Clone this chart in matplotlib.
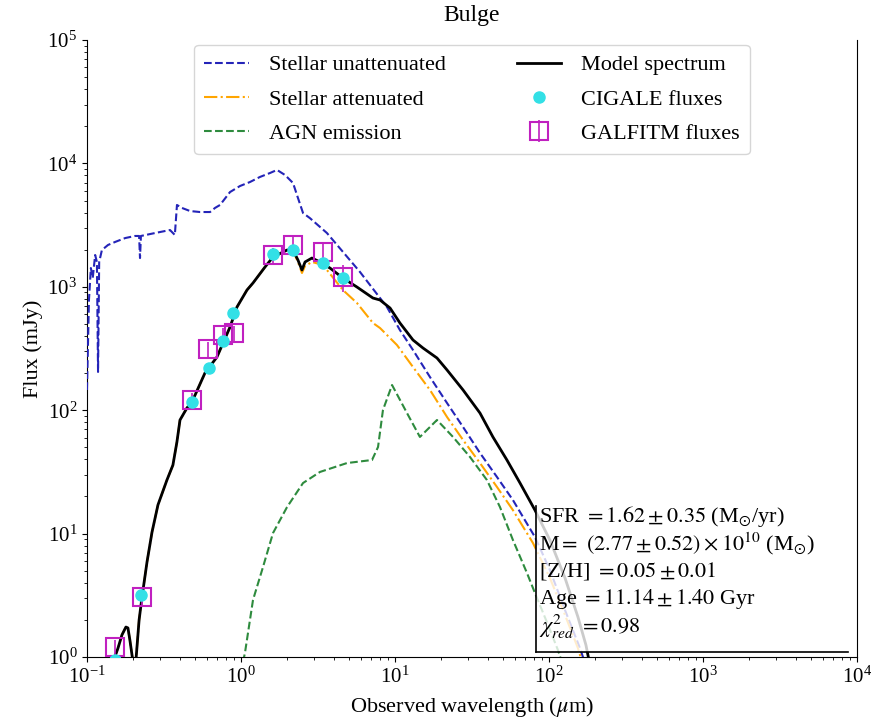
import matplotlib
matplotlib.use("Agg")
import matplotlib.pyplot as plt
from matplotlib.patches import Rectangle

plt.rcParams['font.family'] = ['Liberation Serif', 'DejaVu Serif']
plt.rcParams['mathtext.fontset'] = 'stix'

# ---------------- data (wavelength in micron, flux in mJy) ----------------
unatt_wl = [0.100, 0.103, 0.106, 0.109, 0.113, 0.116, 0.118, 0.120, 0.125, 0.137,
            0.152, 0.177, 0.205, 0.218, 0.221, 0.224, 0.277, 0.346, 0.372, 0.384,
            0.414, 0.467, 0.542, 0.630, 0.678, 0.731, 0.849, 0.986, 1.143, 1.327,
            1.542, 1.714, 1.932, 2.178, 2.344, 2.529, 2.805, 3.614, 5.929, 8.872,
            10.76, 13.09, 16.87, 21.78, 27.67, 35.65, 45.92, 58.34, 81.10, 101.4,
            127.1, 158.9, 168.7]
unatt_fl = [145.9, 781.6, 1419, 1178, 1811, 1589, 204.2, 1589, 1986, 2183,
            2307, 2483, 2582, 2582, 1710, 2582, 2729, 2884, 2630, 4603,
            4355, 4111, 4036, 4036, 4355, 4603, 5861, 6561, 7063, 7762,
            8356, 8851, 8054, 6934, 5248, 3963, 3600, 2729, 1318, 685.5,
            446.7, 307.6, 185.8, 114.3, 73.1, 45.0, 28.8, 18.7, 9.38, 5.07,
            2.40, 1.18, 0.946]

att_wl = [0.1476, 0.159, 0.1687, 0.179, 0.1845, 0.190, 0.199, 0.208, 0.218, 0.2277,
          0.2454, 0.2645, 0.2891, 0.3306, 0.3614, 0.3837, 0.4018, 0.4457, 0.4804, 0.5834,
          0.6982, 0.849, 0.9419, 1.094, 1.197, 1.432, 1.614, 1.991, 2.178, 2.344,
          2.489, 2.606, 2.889, 3.404, 4.592, 5.662, 7.194, 7.998, 10.30, 13.09,
          16.87, 21.78, 27.67, 35.65, 45.92, 58.34, 78.7, 101.4, 127.1, 154.2, 166.3]
att_fl = [0.911, 1.18, 1.51, 1.75, 1.72, 1.37, 0.911, 0.946, 1.995, 3.06,
          5.89, 10.3, 17.1, 27.2, 35.9, 55.2, 83.3, 104.2, 116.5, 200.1,
          269.8, 472.1, 685.5, 941.9, 1074, 1446, 1742, 1986, 1950, 1589,
          1294, 1474, 1589, 1503, 941.9, 739.6, 509, 463.4, 337.6, 223.9,
          145.9, 88.1, 57.4, 37.3, 23.9, 15.5, 8.39, 4.37, 2.19, 1.18, 0.861]

agn_wl = [1.030, 1.061, 1.197, 1.390, 1.614, 1.991, 2.529, 3.258, 4.875, 7.096,
          7.762, 8.356, 9.572, 11.97, 14.52, 18.74, 23.82, 30.69, 39.53, 48.08,
          58.34, 71.94, 81.10, 98.6, 114.3, 121.3]
agn_fl = [0.911, 1.077, 2.90, 5.36, 10.1, 16.4, 25.7, 31.6, 37.3, 39.5,
          50.3, 100.4, 160.0, 94.8, 60.7, 83.3, 60.7, 41.8, 27.2, 16.4,
          8.87, 4.80, 3.30, 1.82, 1.14, 0.911]

model_wl = [0.1476, 0.159, 0.1687, 0.179, 0.1845, 0.190, 0.199, 0.208, 0.218, 0.2277,
            0.2454, 0.2645, 0.2891, 0.3306, 0.3614, 0.3837, 0.4018, 0.4457, 0.4804, 0.5834,
            0.6982, 0.849, 0.9419, 1.094, 1.197, 1.432, 1.614, 1.991, 2.178, 2.344,
            2.489, 2.606, 2.889, 3.258, 3.784, 4.592, 5.662, 7.194, 7.998, 9.290,
            10.77, 13.09, 15.20, 18.74, 21.78, 27.67, 35.65, 43.25, 53.33, 64.86,
            81.10, 101.4, 127.1, 154.2, 173.8, 184.5]
model_fl = [0.911, 1.18, 1.51, 1.75, 1.72, 1.37, 0.911, 0.946, 1.995, 3.06,
            5.89, 10.3, 17.1, 27.2, 35.9, 55.2, 83.3, 104.2, 116.5, 200.1,
            269.8, 472.1, 685.5, 941.9, 1074, 1446, 1742, 1986, 1986, 1648,
            1368, 1589, 1710, 1589, 1419, 1178, 996, 811, 781.6, 673,
            509, 370.7, 319.2, 264.9, 211.8, 145.9, 94.8, 60.7, 39.5, 25.7,
            15.5, 8.87, 4.37, 2.11, 1.25, 0.861]

cigale_wl = [0.152, 0.224, 0.481, 0.620, 0.764, 0.887, 1.614, 2.177, 3.41, 4.59]
cigale_fl = [0.946, 3.18, 116.5, 219.8, 363.9, 613.8, 1845, 1986, 1559, 1178]

galfitm_wl = [0.152, 0.228, 0.481, 0.611, 0.764, 0.901, 1.614, 2.177, 3.41, 4.59]
galfitm_fl = [1.205, 3.06, 121.0, 313.3, 406.4, 422.7, 1811, 2183, 1914, 1200]
galfitm_err = [0.18, 0.46, 18, 47, 61, 63, 270, 330, 290, 300]

title = "Bulge"
info_lines = [
    r"SFR $= 1.62 \pm 0.35$ (M$_{\odot}$/yr)",
    r"M$=$ $(2.77 \pm 0.52) \times 10^{10}$ (M$_{\odot}$)",
    r"[Z/H] $= 0.05 \pm 0.01$",
    r"Age $= 11.14 \pm 1.40$ Gyr",
    r"$\chi^2_{red}$ $= 0.98$",
]

# ---------------- figure ----------------
fig = plt.figure(figsize=(8.75, 7.22), dpi=100)
ax = fig.add_axes([0.0994, 0.090, 0.880, 0.8546])

ax.plot(unatt_wl, unatt_fl, ls='--', color='#2424b8', lw=1.5, label='Stellar unattenuated', zorder=3)
ax.plot(att_wl, att_fl, ls='-.', color='orange', lw=1.5, label='Stellar attenuated', zorder=3)
ax.plot(agn_wl, agn_fl, ls='--', color='#2e8b3e', lw=1.5, label='AGN emission', zorder=3)
ax.plot(model_wl, model_fl, ls='-', color='black', lw=2.0, label='Model spectrum', zorder=4)
ax.plot(cigale_wl, cigale_fl, 'o', color='#33e0e6', ms=8, label='CIGALE fluxes', zorder=6, ls='none')
ax.errorbar(galfitm_wl, galfitm_fl, yerr=galfitm_err, fmt='s', mfc='none', mec='#c020c0',
            ecolor='#c020c0', ms=13, mew=1.5, elinewidth=1.2, label='GALFITM fluxes', zorder=5)

ax.set_xscale('log')
ax.set_yscale('log')
ax.set_xlim(0.1, 1e4)
ax.set_ylim(1, 1e5)
ax.set_title(title, fontsize=17, pad=14)
ax.set_xlabel(r"Observed wavelength ($\mu$m)", fontsize=16, labelpad=5)
ax.set_ylabel("Flux (mJy)", fontsize=16, labelpad=3)
ax.tick_params(axis='both', which='major', labelsize=15)
ax.spines['top'].set_visible(False)

handles, labels = ax.get_legend_handles_labels()
leg = ax.legend(handles, labels, loc='upper center', ncol=2, fontsize=16,
                bbox_to_anchor=(0.5, 0.992), borderaxespad=0.0, columnspacing=3.2,
                borderpad=0.45, handletextpad=0.9, labelspacing=0.62)

# text box
rect = Rectangle((0.583, 0.008), 0.405, 0.255, transform=ax.transAxes,
                 facecolor='white', edgecolor='none', alpha=0.8, zorder=7)
ax.add_patch(rect)
ax.plot([0.583, 0.583], [0.008, 0.245], transform=ax.transAxes, color='black', lw=1.2, zorder=8)
ax.plot([0.583, 0.988], [0.008, 0.008], transform=ax.transAxes, color='black', lw=1.2, zorder=8)
ys = [0.227, 0.183, 0.139, 0.094, 0.049]
for y, t in zip(ys, info_lines):
    ax.text(0.587, y, t, transform=ax.transAxes, fontsize=16, va='center', ha='left', zorder=9)

fig.savefig("out.png", dpi=100)
